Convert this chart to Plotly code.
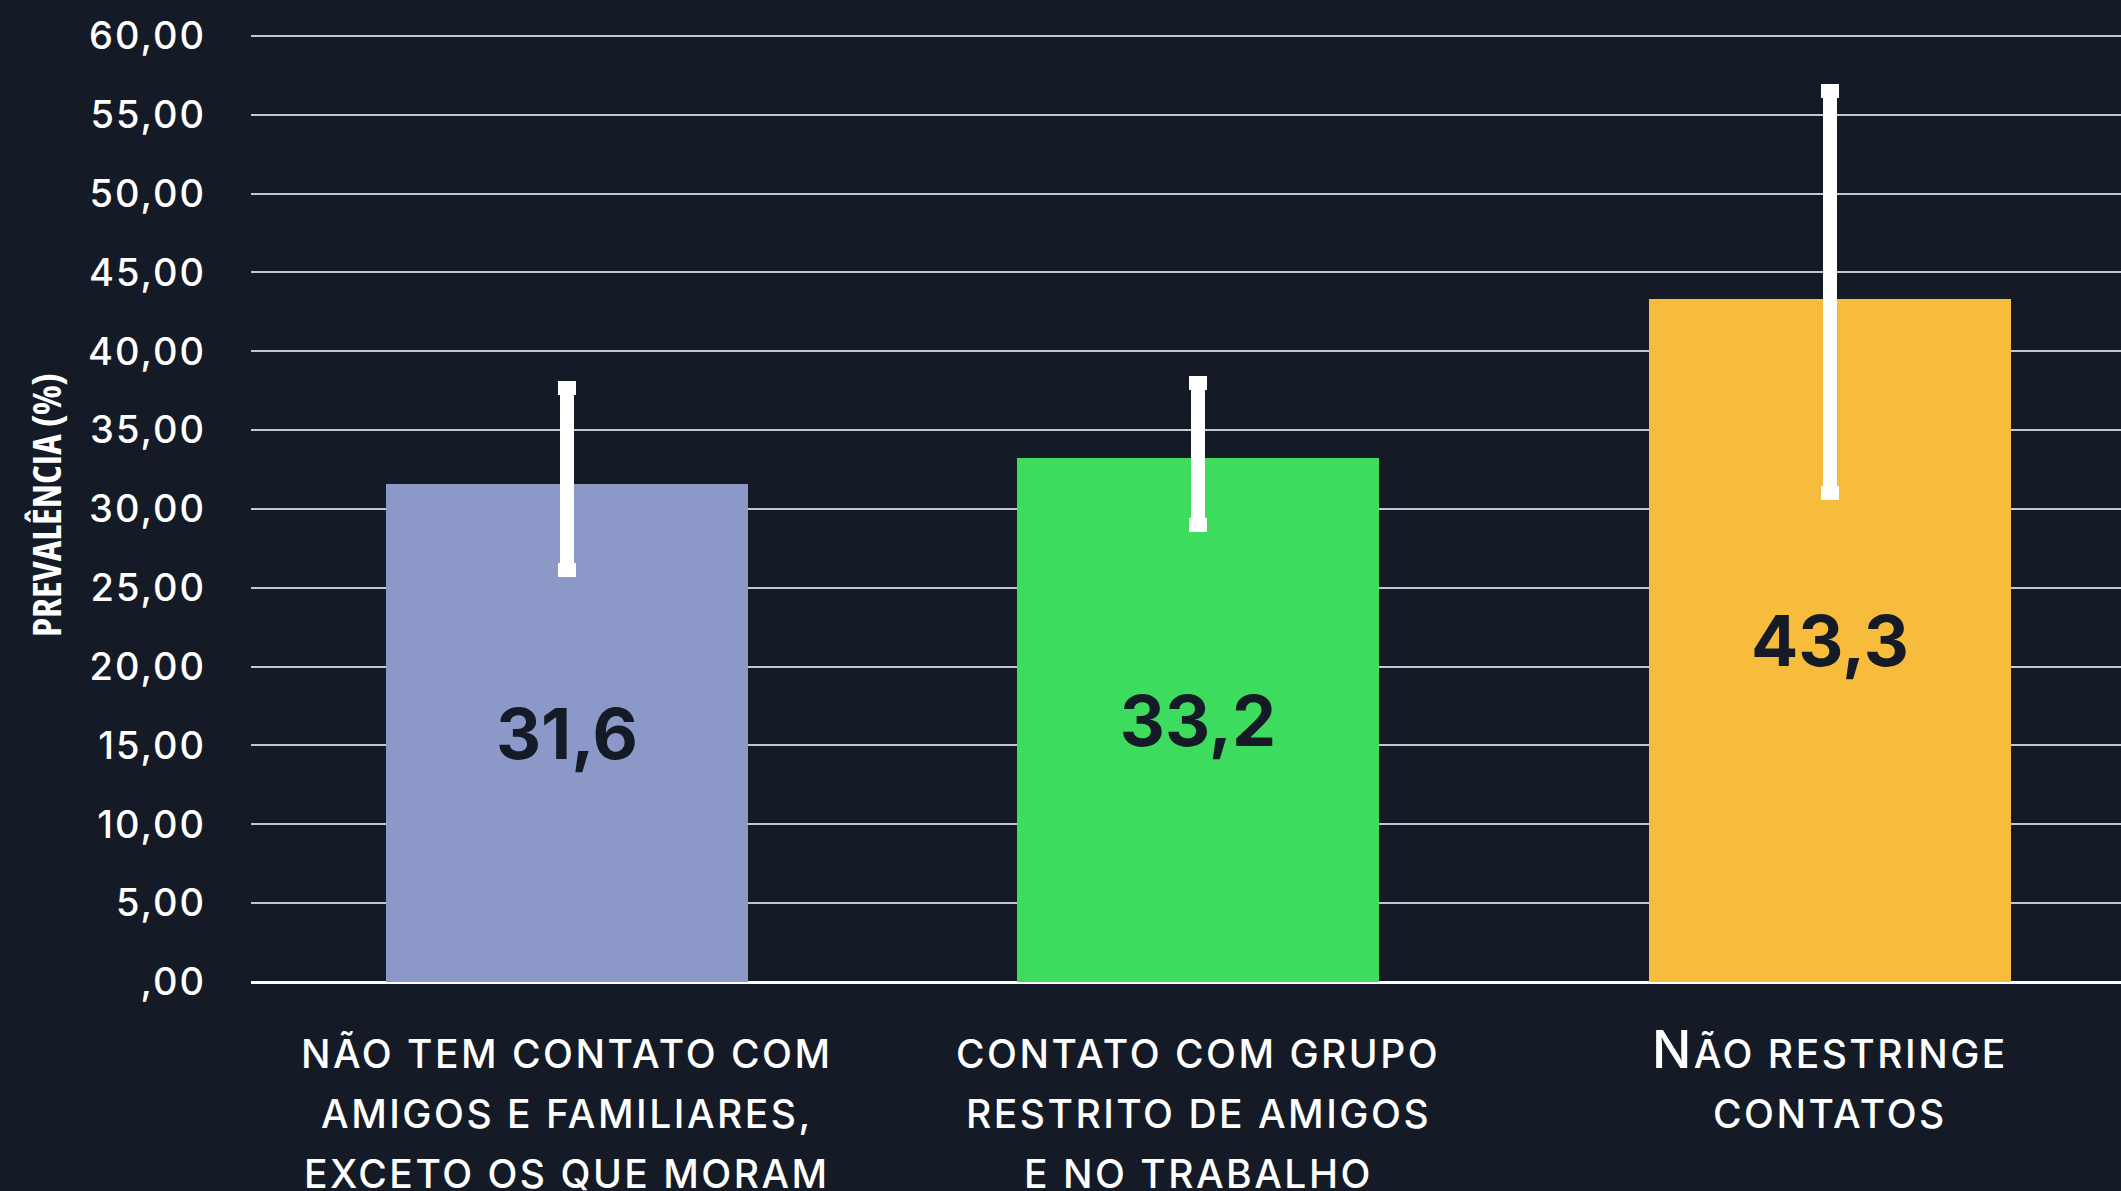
import plotly.graph_objects as go

# ---- data ----
categories = ["Não tem contato", "Contato restrito", "Não restringe"]
prevalence = [31.6, 33.2, 43.3]
ci_upper = [37.7, 38.0, 56.5]
ci_lower = [26.1, 29.0, 31.0]
value_labels = ["31,6", "33,2", "43,3"]
bar_colors = ["#8C98C8", "#3DDC5F", "#F7BC3B"]
label_lines = [
    ["NÃO TEM CONTATO COM", "AMIGOS E FAMILIARES,", "EXCETO OS QUE MORAM"],
    ["CONTATO COM GRUPO", "RESTRITO DE AMIGOS", "E NO TRABALHO"],
    ["<span style='font-size:52px'>N</span>ÃO RESTRINGE", "CONTATOS"],
]
y_tickvals = [0, 5, 10, 15, 20, 25, 30, 35, 40, 45, 50, 55, 60]
y_ticktext = [",00", "5,00", "10,00", "15,00", "20,00", "25,00", "30,00",
              "35,00", "40,00", "45,00", "50,00", "55,00", "60,00"]
y_title = "PREVALÊNCIA (%)"

BG = "#141B26"
FONT = "Inter"

err_plus = [u - v for u, v in zip(ci_upper, prevalence)]
err_minus = [v - l for v, l in zip(prevalence, ci_lower)]

fig = go.Figure()
fig.add_trace(go.Bar(
    x=categories,
    y=prevalence,
    width=0.573,
    marker=dict(color=bar_colors, line=dict(width=0)),
    text=value_labels,
    textposition="inside",
    insidetextanchor="middle",
    textangle=0,
    textfont=dict(family=FONT, size=70, color=BG, weight=700),
    error_y=dict(type="data", symmetric=False, array=err_plus, arrayminus=err_minus,
                 color="#FFFFFF", thickness=14, width=9),
    hoverinfo="skip",
))

# category labels (multi-line, spaced)
annotations = []
for cat, lines in zip(categories, label_lines):
    for i, line in enumerate(lines):
        big = "font-size" in line
        annotations.append(dict(
            x=cat, y=0, xref="x", yref="y",
            text=f"<span style='letter-spacing:2.5px'>{line}</span>",
            showarrow=False, xanchor="center", yanchor="middle",
            yshift=-(71 + 60 * i) + (4 if big else 0),
            font=dict(family=FONT, size=39, color="#FFFFFF", weight=500),
        ))

ticktext_styled = [f"<span style='letter-spacing:2px'>{t}</span>" for t in y_ticktext]

fig.update_layout(
    width=2121, height=1191,
    margin=dict(l=251, r=0, t=28, b=209, pad=0),
    paper_bgcolor=BG, plot_bgcolor=BG,
    showlegend=False,
    bargap=0,
    annotations=annotations,
    xaxis=dict(range=[-0.5, 2.461], showticklabels=False, showgrid=False,
               zeroline=False, showline=False, ticks=""),
    yaxis=dict(range=[0, 60.5], tickvals=y_tickvals, ticktext=ticktext_styled,
               showgrid=True, gridcolor="#C4C7CC", gridwidth=1.5,
               zeroline=True, zerolinecolor="#FFFFFF", zerolinewidth=2.5,
               showline=False, ticks="", ticklabelstandoff=44,
               tickfont=dict(family=FONT, size=38, color="#FFFFFF", weight=500),
               title=dict(text=f"<span style='font-stretch:75%'>{y_title}</span>",
                          standoff=14,
                          font=dict(family="Open Sans",
                                    size=39, color="#FFFFFF", weight=700))),
)

fig.write_html(
    "out.html",
    config={"displayModeBar": False},
    post_script="document.body.style.margin='0';document.body.style.background='#141B26';",
)
